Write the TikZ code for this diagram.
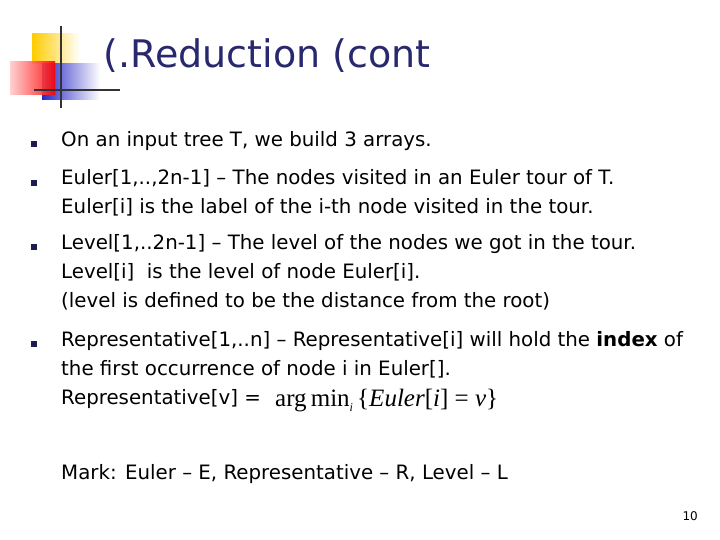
\documentclass[tikz,border=0pt]{standalone}
\usepackage{fontspec}
\setmainfont{DejaVu Sans}
\newfontfamily\timesfont{Liberation Serif}
\usetikzlibrary{positioning}
\definecolor{titleblue}{RGB}{40,40,110}
\definecolor{logoyellow}{RGB}{255,204,0}
\definecolor{logoblue}{RGB}{40,40,200}
\begin{document}
\begin{tikzpicture}[x=1pt,y=-1pt]
  % Define styles
  \tikzset{body/.style={anchor=north west, align=left, inner sep=0pt, font=\fontsize{19.8}{29}\selectfont},
    bullet/.style={fill=titleblue!70!black, minimum size=6pt, inner sep=0pt}}
  \useasboundingbox (0,0) rectangle (720,540);
  % Logo
  \shade[left color=logoyellow, right color=white] (32,34) rectangle (80,64);
  \shade[left color=logoblue, right color=white] (42,64) rectangle (100,100);
  \shade[left color=red!20, right color=red, opacity=0.9] (10,62) rectangle (55,95);
  \draw[line width=2.5pt, black!80] (61,26) -- (61,108);
  \draw[line width=2.5pt, black!80] (34,90) -- (120,90);
  % Title
  \node[anchor=west, text=titleblue, font=\fontsize{38}{42}\selectfont] (title) at (100,56) {(.Reduction (cont};
  % Bullets
  \node[bullet] (b1) at (34,144) {};
  \node[bullet] (b2) at (34,183) {};
  \node[bullet] (b3) at (34,247) {};
  \node[bullet] (b4) at (34,344) {};
  \node[body] (t1) at (61,131) {On an input tree T, we build 3 arrays.};
  \node[body] (t2) at (61,169) {Euler[1,..,2n-1] -- The nodes visited in an Euler tour of T.\\Euler[i] is the label of the i-th node visited in the tour.};
  \node[body] (t3) at (61,234) {Level[1,..2n-1] -- The level of the nodes we got in the tour.\\Level[i]\ \ is the level of node Euler[i].\\(level is defined to be the distance from the root)};
  \node[body] (t4) at (61,331) {Representative[1,..n] -- Representative[i] will hold the \textbf{index} of\\the first occurrence of node i in Euler[].\\Representative[v] =};
  \node[anchor=west, inner sep=0pt, font=\timesfont\fontsize{25}{28}\selectfont] (formula) at (275,401)
    {arg\,min\raisebox{-5pt}{\fontsize{12}{12}\selectfont\itshape i}\,\{\textit{Euler}[\textit{i}] = \textit{v}\}};
  \node[body] (mark) at (61,464) {Mark: Euler -- E, Representative -- R, Level -- L};
  \node[anchor=east, inner sep=0pt, font=\fontsize{12}{14}\selectfont] (page) at (698,516) {10};
\end{tikzpicture}
\end{document}
